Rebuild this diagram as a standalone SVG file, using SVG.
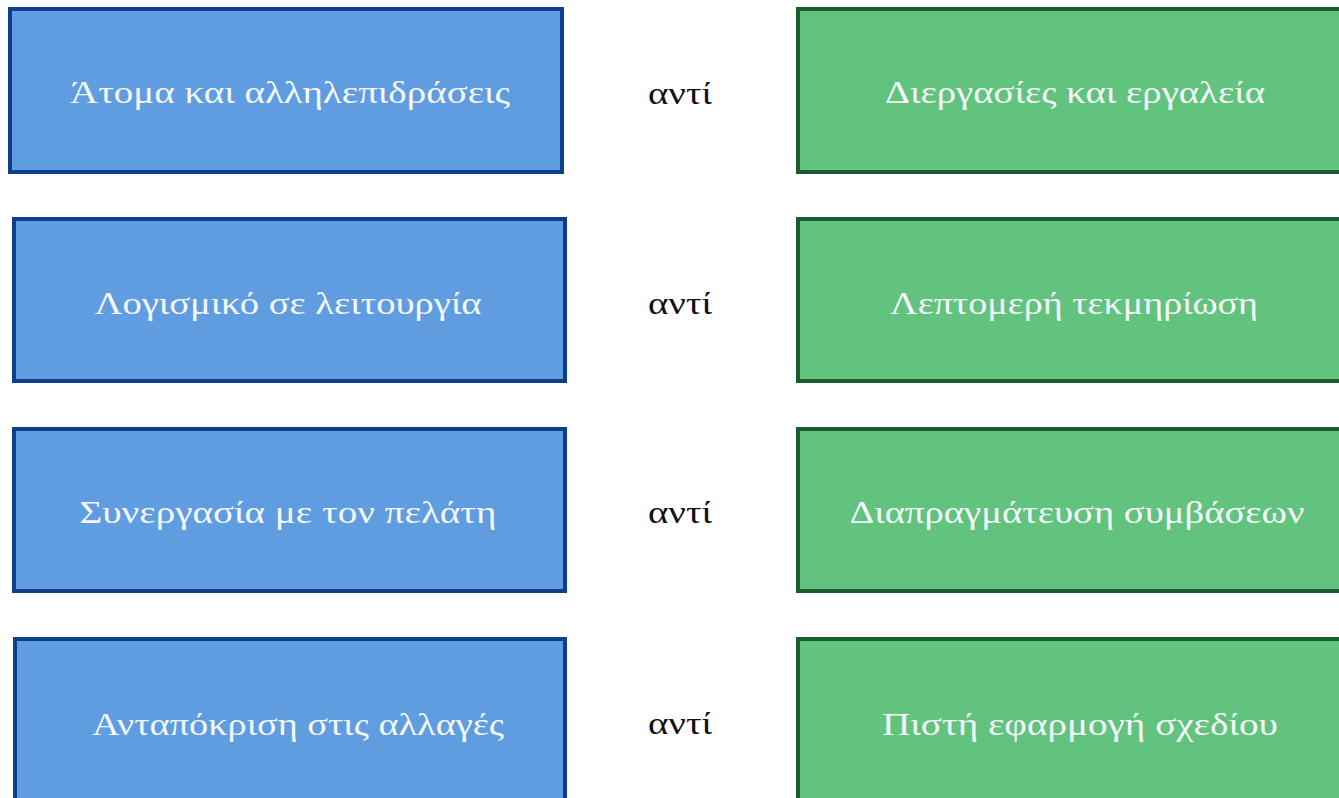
<svg xmlns="http://www.w3.org/2000/svg" width="1339" height="798" viewBox="0 0 1339 798">
  <style>
    .blue { fill: #5f9de0; stroke: #0e3f8c; stroke-width: 4; }
    .green { fill: #62c37e; stroke: #1b5c2e; stroke-width: 4; }
    .lbl { font-family: "Liberation Serif", "DejaVu Serif", serif; font-size: 32px; fill: #f4f8fc; text-anchor: middle; }
    .vs { font-family: "Liberation Serif", "DejaVu Serif", serif; font-size: 32px; fill: #111111; text-anchor: middle; }
  </style>
  <rect width="1339" height="798" fill="#ffffff"/>

  <!-- left column: values -->
  <g id="values">
    <g id="v1"><rect class="blue" x="10" y="9" width="552" height="163"/><text class="lbl" x="290" y="103" textLength="440" lengthAdjust="spacingAndGlyphs">Άτομα και αλληλεπιδράσεις</text></g>
    <g id="v2"><rect class="blue" x="14" y="219" width="551" height="162"/><text class="lbl" x="288" y="314" textLength="387" lengthAdjust="spacingAndGlyphs">Λογισμικό σε λειτουργία</text></g>
    <g id="v3"><rect class="blue" x="14" y="429" width="551" height="162"/><text class="lbl" x="288" y="523" textLength="417" lengthAdjust="spacingAndGlyphs">Συνεργασία με τον πελάτη</text></g>
    <g id="v4"><rect class="blue" x="15" y="639" width="550" height="170"/><text class="lbl" x="298" y="735" textLength="412" lengthAdjust="spacingAndGlyphs">Ανταπόκριση στις αλλαγές</text></g>
  </g>

  <!-- middle column -->
  <g id="versus">
    <text class="vs" x="680" y="104" textLength="64" lengthAdjust="spacingAndGlyphs">αντί</text>
    <text class="vs" x="680" y="314" textLength="64" lengthAdjust="spacingAndGlyphs">αντί</text>
    <text class="vs" x="680" y="523" textLength="64" lengthAdjust="spacingAndGlyphs">αντί</text>
    <text class="vs" x="680" y="734" textLength="64" lengthAdjust="spacingAndGlyphs">αντί</text>
  </g>

  <!-- right column: counterparts -->
  <g id="counterparts">
    <g id="c1"><rect class="green" x="798" y="9" width="560" height="163"/><text class="lbl" x="1075" y="103" textLength="380" lengthAdjust="spacingAndGlyphs">Διεργασίες και εργαλεία</text></g>
    <g id="c2"><rect class="green" x="798" y="219" width="560" height="162"/><text class="lbl" x="1074" y="314" textLength="368" lengthAdjust="spacingAndGlyphs">Λεπτομερή τεκμηρίωση</text></g>
    <g id="c3"><rect class="green" x="798" y="429" width="560" height="162"/><text class="lbl" x="1077" y="523" textLength="455" lengthAdjust="spacingAndGlyphs">Διαπραγμάτευση συμβάσεων</text></g>
    <g id="c4"><rect class="green" x="798" y="639" width="560" height="170"/><text class="lbl" x="1080" y="735" textLength="396" lengthAdjust="spacingAndGlyphs">Πιστή εφαρμογή σχεδίου</text></g>
  </g>
</svg>
